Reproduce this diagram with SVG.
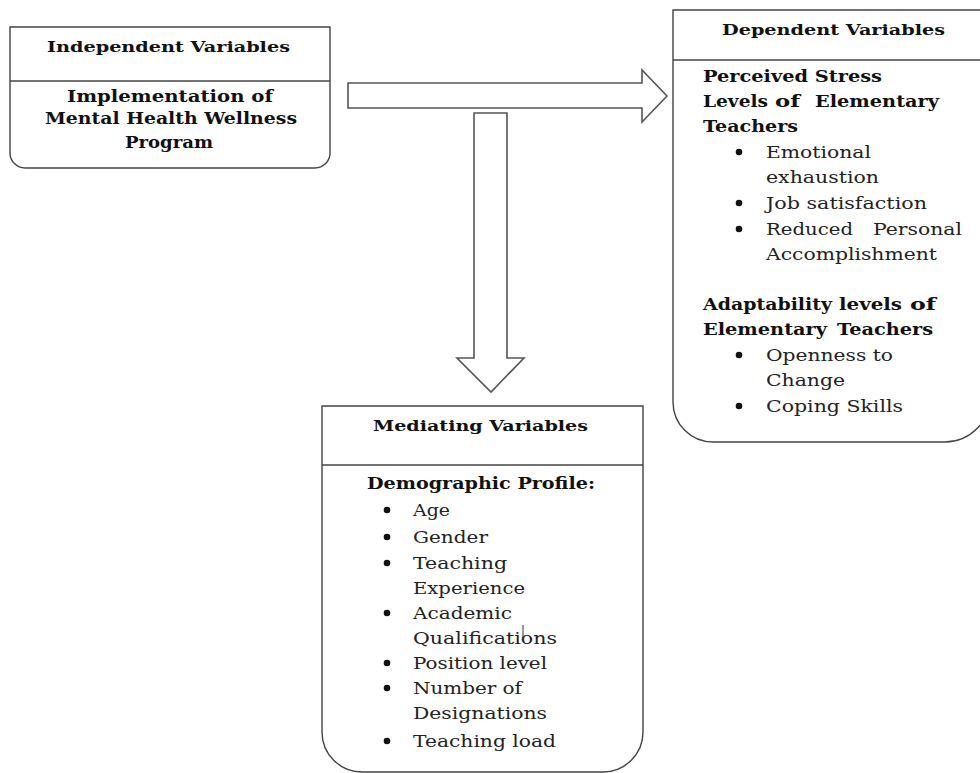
<svg xmlns="http://www.w3.org/2000/svg" width="980" height="773" viewBox="0 0 980 773">
<style>
.box{fill:#fff;stroke:#444;stroke-width:1.4}
.div{stroke:#444;stroke-width:1.4}
.arrow{fill:#fff;stroke:#555;stroke-width:1.6;stroke-linejoin:miter}
.ttl{font-family:"DejaVu Serif","Liberation Serif",serif;font-weight:bold;font-size:15.5px;fill:#111}
.h{font-family:"DejaVu Serif","Liberation Serif",serif;font-weight:bold;font-size:17px;fill:#111}
.t{font-family:"DejaVu Serif","Liberation Serif",serif;font-size:17px;fill:#222}
.dot{fill:#111}
</style>
<rect width="980" height="773" fill="#fff"/>
<g id="connectors">
<polygon class="arrow" points="348,83 642,83 642,70 667,96 642,122 642,108 348,108"/>
<polygon class="arrow" points="474,113 507,113 507,358 524,358 491,392 457,358 474,358"/>
</g>
<g id="independent">
<path class="box" d="M10,27 H330 V153 A15,15 0 0 1 315,168 H25 A15,15 0 0 1 10,153 Z"/>
<line class="div" x1="10" y1="81" x2="330" y2="81"/>
<text class="ttl" x="47" y="52" textLength="243" lengthAdjust="spacingAndGlyphs">Independent Variables</text>
<text class="h" x="67" y="102" textLength="206" lengthAdjust="spacingAndGlyphs">Implementation of</text>
<text class="h" x="45" y="124" textLength="252" lengthAdjust="spacingAndGlyphs">Mental Health Wellness</text>
<text class="h" x="125" y="148" textLength="88" lengthAdjust="spacingAndGlyphs">Program</text>
</g>
<g id="dependent">
<path class="box" d="M673,10 H990 V397 A45,45 0 0 1 945,442 H713 A40,40 0 0 1 673,402 Z"/>
<line class="div" x1="673" y1="60" x2="980" y2="60"/>
<text class="ttl" x="722" y="35" textLength="223" lengthAdjust="spacingAndGlyphs">Dependent Variables</text>
<text class="h" x="703" y="82" textLength="179" lengthAdjust="spacingAndGlyphs">Perceived Stress</text>
<text class="h" x="703" y="107" textLength="65" lengthAdjust="spacingAndGlyphs">Levels</text>
<text class="h" x="775" y="107" textLength="25" lengthAdjust="spacingAndGlyphs">of</text>
<text class="h" x="815" y="107" textLength="124" lengthAdjust="spacingAndGlyphs">Elementary</text>
<text class="h" x="703" y="132" textLength="95" lengthAdjust="spacingAndGlyphs">Teachers</text>
<circle class="dot" cx="739" cy="152" r="3.3"/>
<text class="t" x="766" y="158" textLength="105" lengthAdjust="spacingAndGlyphs">Emotional</text>
<text class="t" x="766" y="183" textLength="113" lengthAdjust="spacingAndGlyphs">exhaustion</text>
<circle class="dot" cx="739" cy="203" r="3.3"/>
<text class="t" x="766" y="209" textLength="161" lengthAdjust="spacingAndGlyphs">Job satisfaction</text>
<circle class="dot" cx="739" cy="229" r="3.3"/>
<text class="t" x="766" y="235" textLength="87" lengthAdjust="spacingAndGlyphs">Reduced</text>
<text class="t" x="873" y="235" textLength="89" lengthAdjust="spacingAndGlyphs">Personal</text>
<text class="t" x="766" y="260" textLength="171" lengthAdjust="spacingAndGlyphs">Accomplishment</text>
<text class="h" x="703" y="310" textLength="129" lengthAdjust="spacingAndGlyphs">Adaptability</text>
<text class="h" x="839" y="310" textLength="63" lengthAdjust="spacingAndGlyphs">levels</text>
<text class="h" x="910" y="310" textLength="26" lengthAdjust="spacingAndGlyphs">of</text>
<text class="h" x="703" y="335" textLength="124" lengthAdjust="spacingAndGlyphs">Elementary</text>
<text class="h" x="837" y="335" textLength="96" lengthAdjust="spacingAndGlyphs">Teachers</text>
<circle class="dot" cx="739" cy="355" r="3.3"/>
<text class="t" x="766" y="361" textLength="127" lengthAdjust="spacingAndGlyphs">Openness to</text>
<text class="t" x="766" y="386" textLength="79" lengthAdjust="spacingAndGlyphs">Change</text>
<circle class="dot" cx="739" cy="406" r="3.3"/>
<text class="t" x="766" y="412" textLength="137" lengthAdjust="spacingAndGlyphs">Coping Skills</text>
</g>
<g id="mediating">
<path class="box" d="M322,406 H643 V732 A40,40 0 0 1 603,772 H362 A40,40 0 0 1 322,732 Z"/>
<line class="div" x1="322" y1="465" x2="643" y2="465"/>
<text class="ttl" x="373" y="431" textLength="215" lengthAdjust="spacingAndGlyphs">Mediating Variables</text>
<text class="h" x="367" y="489" textLength="228" lengthAdjust="spacingAndGlyphs">Demographic Profile:</text>
<circle class="dot" cx="387" cy="510" r="3.3"/>
<text class="t" x="413" y="516" textLength="37" lengthAdjust="spacingAndGlyphs">Age</text>
<circle class="dot" cx="387" cy="537" r="3.3"/>
<text class="t" x="413" y="543" textLength="75" lengthAdjust="spacingAndGlyphs">Gender</text>
<circle class="dot" cx="387" cy="563" r="3.3"/>
<text class="t" x="413" y="569" textLength="94" lengthAdjust="spacingAndGlyphs">Teaching</text>
<text class="t" x="413" y="594" textLength="112" lengthAdjust="spacingAndGlyphs">Experience</text>
<circle class="dot" cx="387" cy="613" r="3.3"/>
<text class="t" x="413" y="619" textLength="99" lengthAdjust="spacingAndGlyphs">Academic</text>
<text class="t" x="413" y="644" textLength="144" lengthAdjust="spacingAndGlyphs">Qualifications</text>
<line x1="523" y1="625" x2="523" y2="638" stroke="#333" stroke-width="1"/>
<circle class="dot" cx="387" cy="663" r="3.3"/>
<text class="t" x="413" y="669" textLength="134" lengthAdjust="spacingAndGlyphs">Position level</text>
<circle class="dot" cx="387" cy="688" r="3.3"/>
<text class="t" x="413" y="694" textLength="109" lengthAdjust="spacingAndGlyphs">Number of</text>
<text class="t" x="413" y="719" textLength="134" lengthAdjust="spacingAndGlyphs">Designations</text>
<circle class="dot" cx="387" cy="741" r="3.3"/>
<text class="t" x="413" y="747" textLength="143" lengthAdjust="spacingAndGlyphs">Teaching load</text>
</g>
</svg>
